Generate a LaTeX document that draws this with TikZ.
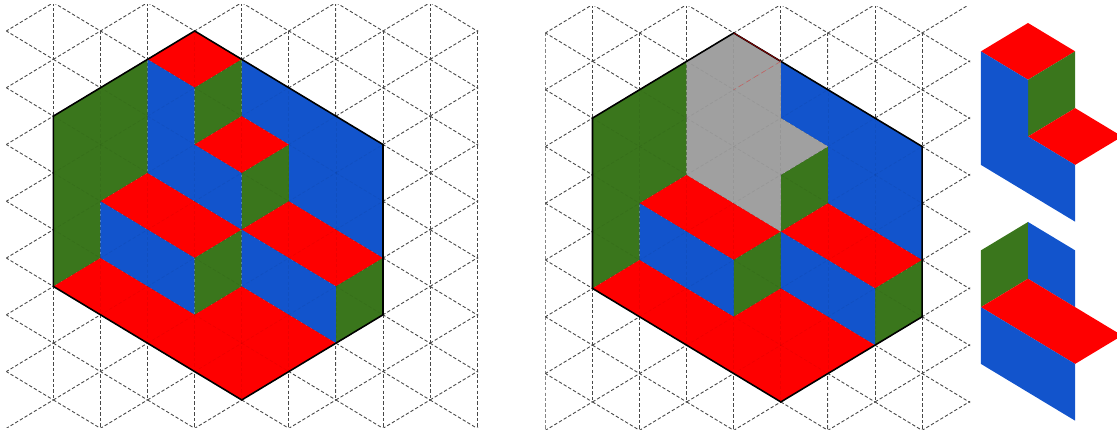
\documentclass[tikz,border=0pt]{standalone}
\definecolor{facered}{HTML}{FE0000}
\definecolor{faceblue}{HTML}{1254CC}
\definecolor{facegreen}{HTML}{3A761C}
\definecolor{facegray}{HTML}{A0A0A0}
\tikzset{
  gridline/.style={dash pattern=on 1.9pt off 1.2pt, line width=0.5pt, black!70},
  faintline/.style={dash pattern=on 1.9pt off 1.2pt, line width=0.4pt, black, opacity=0.06},
  outline/.style={line width=0.9pt, black},
}
\newcommand{\trigrid}[3]{%
  \begin{scope}
    \clip (0,-0.916) rectangle (#3+0.02,13.97);
    \foreach \i in {0,2,...,10} \foreach \j in {0,2,...,14} {
      \draw[#1] (\i-1,\j-1) -- (\i+1,\j+1);
      \draw[#1] (\i-1,\j+1) -- (\i+1,\j-1);
    }
    \foreach \i in {#2} {
      \pgfmathtruncatemacro{\low}{mod(\i,2)==0 ? 0 : -1}
      \draw[#1] (\i,\low) -- (\i,\low+14);
    }
  \end{scope}
}
\newcommand{\stairfaces}{%
  % Left wall and back wall
  \fill[facegreen] (1,3) -- (3,1) -- (3,5) -- (2,6) -- (2,8) -- (1,9) -- cycle;
  \fill[faceblue] (5,1) -- (8,4) -- (8,8) -- (6,6) -- (6,4) -- (5,3) -- cycle;
  % Steps
  \fill[facegreen] (5,5) -- (6,4) -- (6,6) -- (5,7) -- cycle;
  \fill[facered] (3,5) -- (5,7) -- (4,8) -- (2,6) -- cycle;
  \fill[facered] (5,7) -- (6,6) -- (8,8) -- (7,9) -- cycle;
  \fill[facegreen] (7,9) -- (8,8) -- (8,10) -- (7,11) -- cycle;
  \fill[faceblue] (2,6) -- (4,8) -- (4,10) -- (2,8) -- cycle;
  \fill[facegreen] (4,8) -- (5,7) -- (5,9) -- (4,10) -- cycle;
  \fill[faceblue] (5,7) -- (7,9) -- (7,11) -- (5,9) -- cycle;
  % Floor
  \fill[facered] (1,9) -- (2,8) -- (4,10) -- (5,9) -- (7,11) -- (5,13) -- cycle;
}
\begin{document}
\begin{tikzpicture}[x=0.9416cm, y=-0.5676cm]
  \clip (-0.134,-1.092) rectangle (23.59,14.165);

  % Left figure
  \trigrid{gridline}{1,...,10}{10}
  \stairfaces
  \fill[facered] (4,0) -- (3,1) -- (4,2) -- (5,1) -- cycle;
  \fill[faceblue] (3,1) -- (4,2) -- (4,4) -- (5,5) -- (5,7) -- (3,5) -- cycle;
  \fill[facegreen] (4,2) -- (5,1) -- (5,3) -- (4,4) -- cycle;
  \fill[facered] (5,3) -- (6,4) -- (5,5) -- (4,4) -- cycle;
  \trigrid{faintline}{1,...,10}{10}
  \draw[outline] (4,0) -- (1,3) -- (1,9) -- (5,13) -- (8,10) -- (8,4) -- cycle;

  % Right figure, pieces taken out
  \begin{scope}[shift={(11.45,0.07)}]
    \trigrid{gridline}{0,...,8}{9}
    \stairfaces
    \fill[facegray] (3,1) -- (4,0) -- (5,1) -- (5,3) -- (6,4) -- (5,5) -- (5,7) -- (3,5) -- cycle;
    \trigrid{faintline}{0,...,8}{9}
    \draw[outline] (4,0) -- (1,3) -- (1,9) -- (5,13) -- (8,10) -- (8,4) -- cycle;
    \draw[facered!50!black, line width=0.5pt] (4,0) -- (5,1);
    \draw[facered!40!facegray, line width=0.3pt, densely dashed] (5,1) -- (4,2);
  \end{scope}

  % Upper piece
  \begin{scope}[shift={(21.70,-0.282)}]
    \fill[facered] (0,0) -- (-1,1) -- (0,2) -- (1,1) -- cycle;
    \fill[facegreen] (0,2) -- (1,1) -- (1,3) -- (0,4) -- cycle;
    \fill[facered] (1,3) -- (2,4) -- (1,5) -- (0,4) -- cycle;
    \fill[faceblue] (-1,1) -- (0,2) -- (0,4) -- (1,5) -- (1,7) -- (-1,5) -- cycle;
  \end{scope}

  % Lower piece
  \begin{scope}[shift={(21.70,6.73)}]
    \fill[facegreen] (0,0) -- (-1,1) -- (-1,3) -- (0,2) -- cycle;
    \fill[faceblue] (0,0) -- (1,1) -- (1,3) -- (0,2) -- cycle;
    \fill[facered] (0,2) -- (2,4) -- (1,5) -- (-1,3) -- cycle;
    \fill[faceblue] (-1,3) -- (1,5) -- (1,7) -- (-1,5) -- cycle;
  \end{scope}
\end{tikzpicture}
\end{document}
